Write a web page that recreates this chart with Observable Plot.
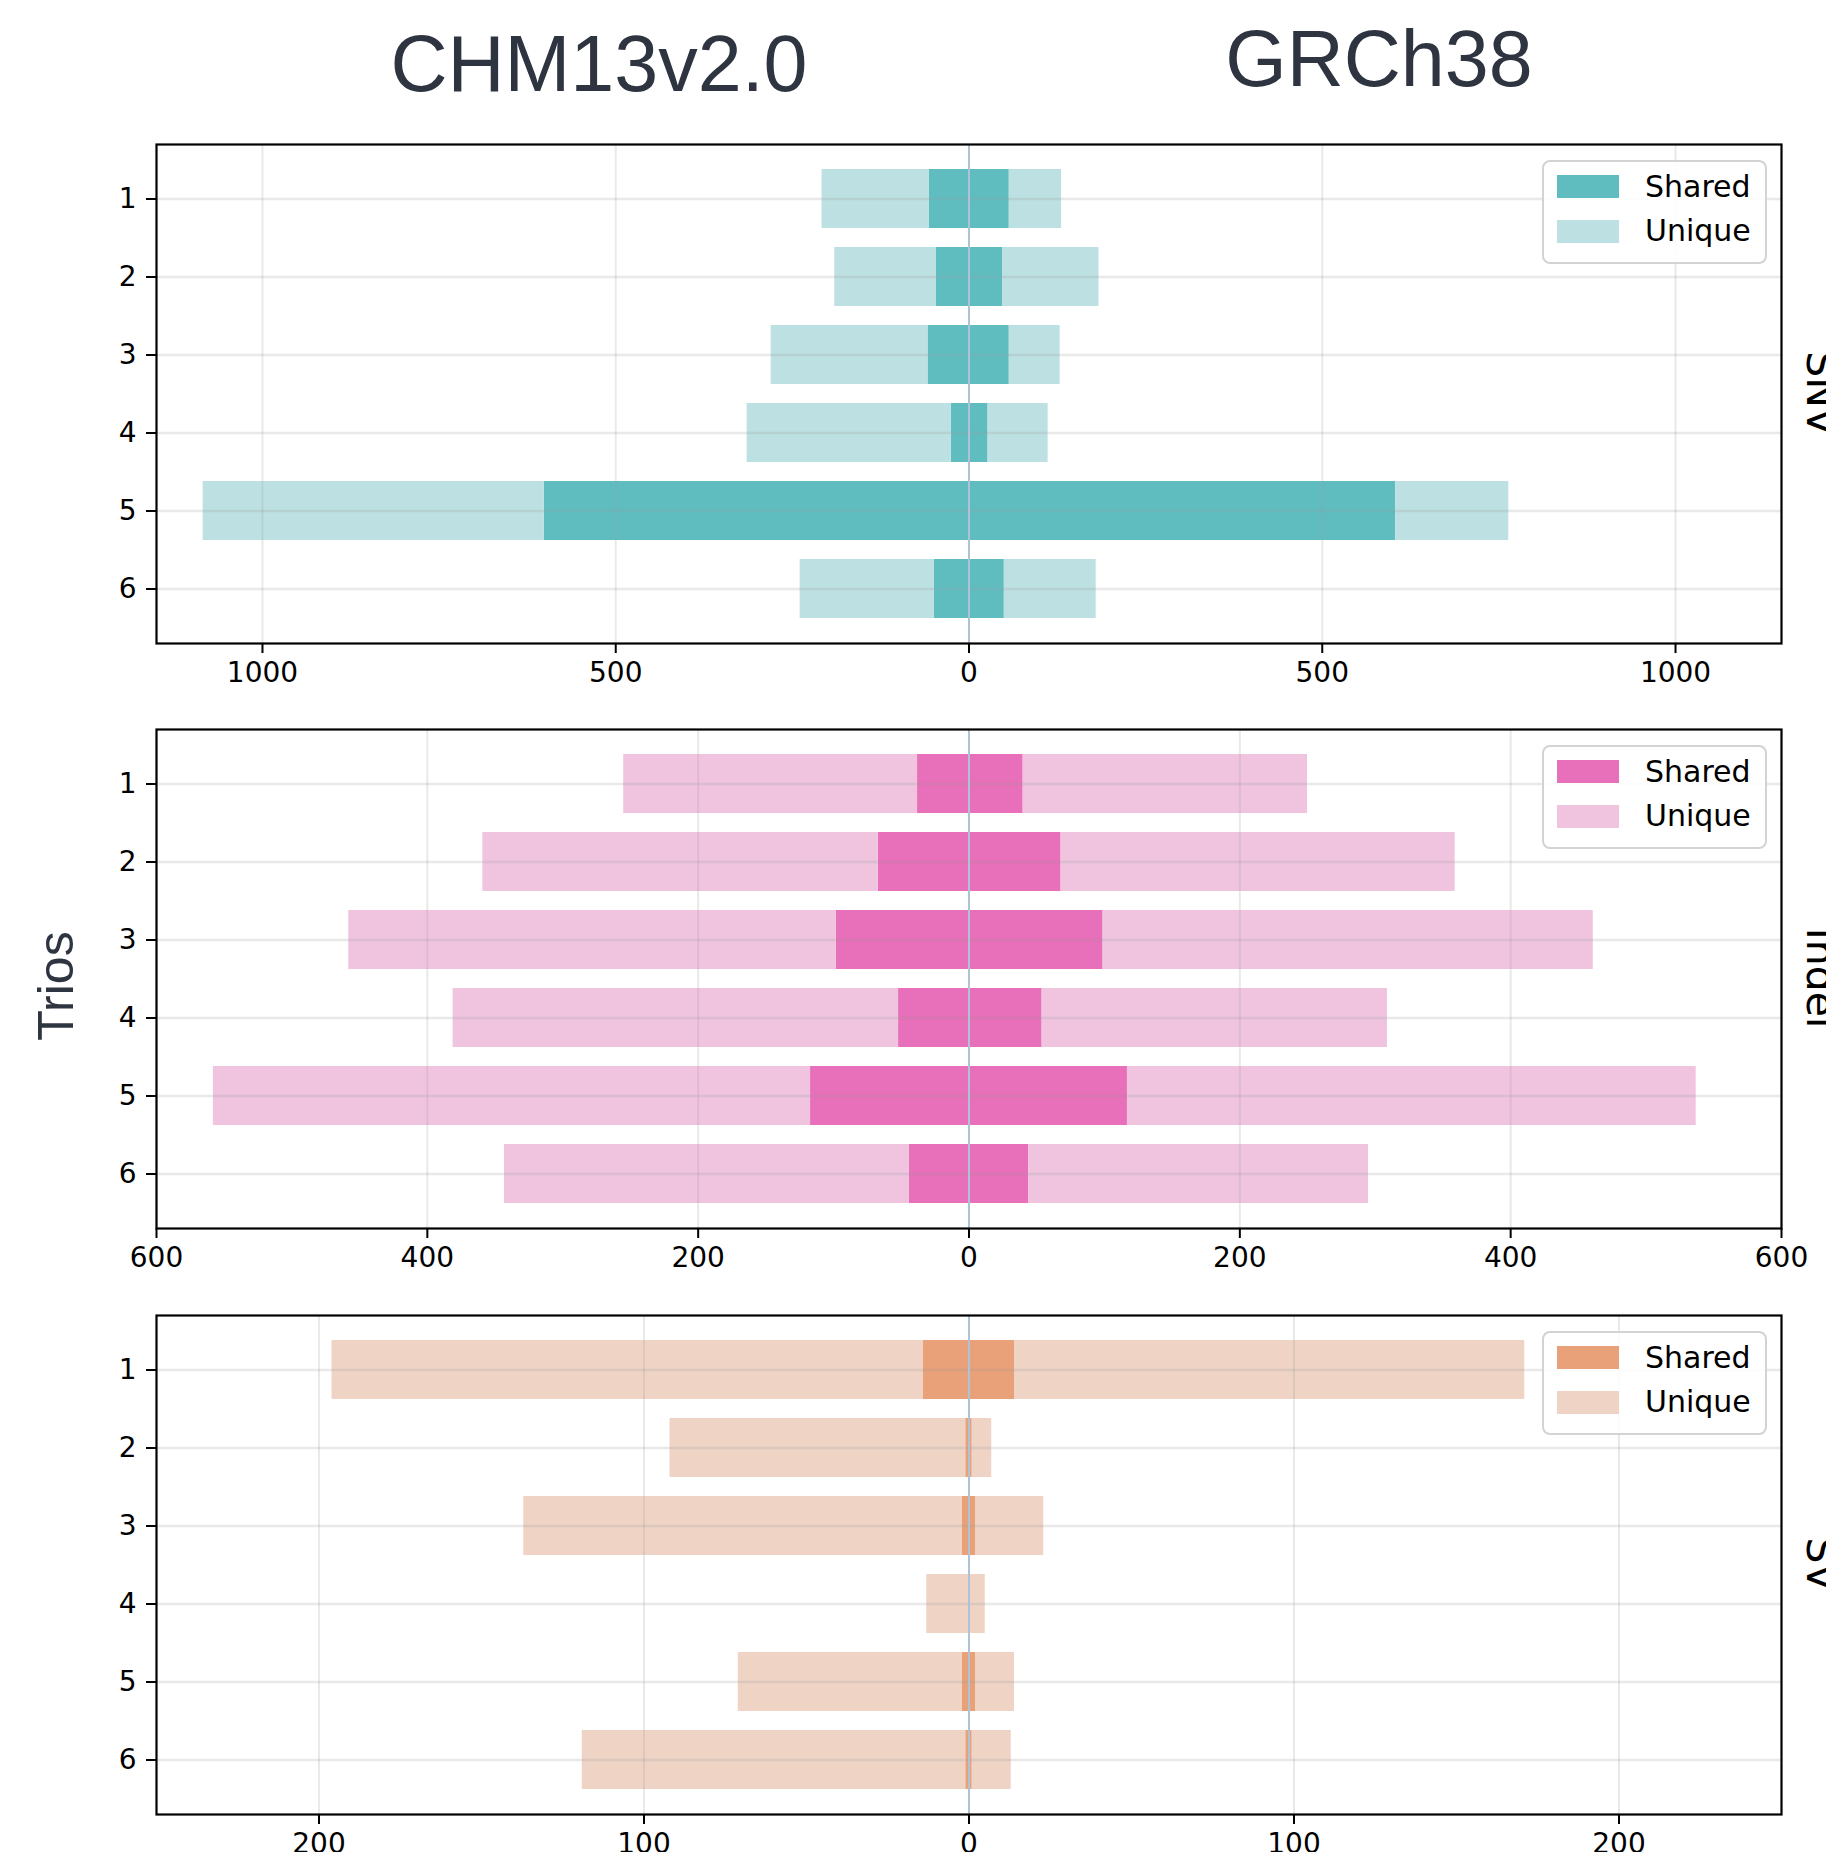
<!DOCTYPE html>
<html>
<head>
<meta charset="utf-8">
<script src="https://cdn.jsdelivr.net/npm/d3@7"></script>
<script src="https://cdn.jsdelivr.net/npm/@observablehq/plot@0.6"></script>
<style>
  html, body { margin: 0; padding: 0; background: #ffffff; overflow: hidden; }
  #wrap { position: relative; width: 1826px; height: 1852px; overflow: hidden; background: #fff; }
  #wrap > svg { position: absolute; left: 0; }
</style>
</head>
<body>
<div id="wrap"></div>
<script>
// ---------- data ----------
const trios = [1, 2, 3, 4, 5, 6];
const kinds = ["Shared", "Unique"];
const refTitles = ["CHM13v2.0", "GRCh38"];
const panelNames = ["SNV", "Indel", "SV"];
const yTitle = "Trios";

// SNV
const snvChmShared  = [56, 46, 58, 25, 601, 49];
const snvChmUnique  = [152, 144, 222, 289, 483, 190];
const snvGrchShared = [57, 48, 57, 27, 604, 50];
const snvGrchUnique = [74, 136, 72, 85, 160, 130];
const snvTicks = [-1000, -500, 0, 500, 1000];

// Indel
const indelChmShared  = [38, 67, 98, 52, 117, 44];
const indelChmUnique  = [217, 292, 360, 329, 441, 299];
const indelGrchShared = [40, 68, 99, 54, 117, 44];
const indelGrchUnique = [210, 291, 362, 255, 420, 251];
const indelTicks = [-600, -400, -200, 0, 200, 400, 600];

// SV
const svChmShared  = [14, 1, 2, 0, 2, 1];
const svChmUnique  = [182, 91, 135, 13, 69, 118];
const svGrchShared = [14, 1, 2, 0, 2, 1];
const svGrchUnique = [157, 6, 21, 5, 12, 12];
const svTicks = [-200, -100, 0, 100, 200];

// ---------- helpers ----------
function tidy(cs, cu, gs, gu) {
  const rows = [];
  trios.forEach((t, i) => {
    rows.push({trio: t, kind: "Shared", value: -cs[i]});
    rows.push({trio: t, kind: "Unique", value: -cu[i]});
    rows.push({trio: t, kind: "Shared", value: gs[i]});
    rows.push({trio: t, kind: "Unique", value: gu[i]});
  });
  return rows;
}

const panels = [
  {name: panelNames[0], data: tidy(snvChmShared, snvChmUnique, snvGrchShared, snvGrchUnique),
   lim: 1150, ticks: snvTicks, colors: ["#5fbdc0", "#bde1e2"], top: 144},
  {name: panelNames[1], data: tidy(indelChmShared, indelChmUnique, indelGrchShared, indelGrchUnique),
   lim: 600, ticks: indelTicks, colors: ["#e86fb9", "#f0c4df"], top: 728.5},
  {name: panelNames[2], data: tidy(svChmShared, svChmUnique, svGrchShared, svGrchUnique),
   lim: 250, ticks: svTicks, colors: ["#e8a179", "#efd4c6"], top: 1315}
];

const W = 1826, ML = 156, MR = 45, MT = 10, MB = 60, FH = 499;
const wrap = document.getElementById("wrap");

panels.forEach(p => {
  const svg = Plot.plot({
    width: W,
    height: MT + FH + MB,
    marginLeft: ML, marginRight: MR, marginTop: MT, marginBottom: MB,
    style: {fontFamily: "DejaVu Sans", background: "transparent", overflow: "visible", color: "#000"},
    x: {domain: [-p.lim, p.lim], label: null},
    y: {type: "band", domain: trios, paddingInner: 0.25, paddingOuter: 0.2875, label: null},
    color: {domain: kinds, range: p.colors},
    marks: [
      Plot.barX(p.data, {x: "value", y: "trio", fill: "kind"}),
      Plot.gridX(p.ticks, {stroke: "#9a9a9a", strokeOpacity: 0.22, strokeWidth: 2}),
      Plot.gridY({stroke: "#9a9a9a", strokeOpacity: 0.22, strokeWidth: 2.5}),
      Plot.ruleX([0], {stroke: "#aec4d6", strokeWidth: 2}),
      Plot.axisX(p.ticks, {tickSize: 10, tickPadding: 9, fontSize: 28, strokeWidth: 2,
        tickFormat: d => String(Math.abs(d)), label: null}),
      Plot.axisY({tickSize: 10, tickPadding: 10, fontSize: 28, strokeWidth: 2, label: null}),
      Plot.frame({stroke: "#000", strokeWidth: 2.2})
    ]
  });
  svg.style.top = (p.top - MT) + "px";

  // legend
  const fr = W - MR;          // frame right
  const ft = MT;              // frame top inside svg
  const g = d3.select(svg).append("g")
    .attr("font-family", "DejaVu Sans")
    .attr("text-anchor", "start");
  g.append("rect")
    .attr("x", fr - 238).attr("y", ft + 17)
    .attr("width", 223).attr("height", 102)
    .attr("rx", 7).attr("ry", 7)
    .attr("fill", "#ffffff").attr("fill-opacity", 0.85)
    .attr("stroke", "#d3d3d3").attr("stroke-width", 2);
  kinds.forEach((k, i) => {
    g.append("rect")
      .attr("x", fr - 224).attr("y", ft + 31 + i * 45)
      .attr("width", 62).attr("height", 23)
      .attr("fill", p.colors[i]);
    g.append("text")
      .attr("x", fr - 136).attr("y", ft + 53 + i * 44)
      .attr("text-anchor", "start")
      .attr("font-size", 30).attr("fill", "#000")
      .text(k);
  });

  wrap.appendChild(svg);
});

// ---------- overlay texts ----------
const ov = d3.select(wrap).append("svg")
  .attr("width", W).attr("height", 1852)
  .style("top", "0px").style("pointer-events", "none");

ov.append("text").attr("x", 599).attr("y", 91)
  .attr("text-anchor", "middle").attr("font-family", "Liberation Sans, Arial, sans-serif")
  .attr("font-size", 79).attr("fill", "#2e3440").text(refTitles[0]);
ov.append("text").attr("x", 1379).attr("y", 86)
  .attr("text-anchor", "middle").attr("font-family", "Liberation Sans, Arial, sans-serif")
  .attr("font-size", 79).attr("fill", "#2e3440").text(refTitles[1]);

ov.append("text")
  .attr("transform", "translate(73,986) rotate(-90)")
  .attr("text-anchor", "middle").attr("font-family", "Liberation Sans, Arial, sans-serif")
  .attr("font-size", 50).attr("fill", "#2e3440").text(yTitle);

panels.forEach(p => {
  const cy = p.top + FH / 2;
  ov.append("text")
    .attr("transform", `translate(1807,${cy}) rotate(90)`)
    .attr("text-anchor", "middle").attr("font-family", "DejaVu Sans")
    .attr("font-size", 41).attr("fill", "#000").text(p.name);
});
</script>
</body>
</html>
